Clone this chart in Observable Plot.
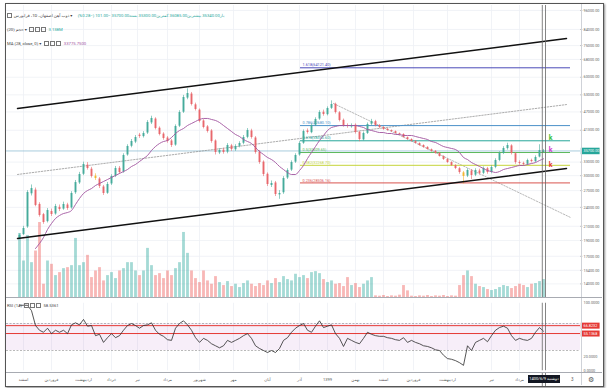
<!DOCTYPE html>
<html><head><meta charset="utf-8">
<script src="https://cdn.jsdelivr.net/npm/d3@7"></script>
<script src="https://cdn.jsdelivr.net/npm/@observablehq/plot@0.6"></script>
<style>
html,body{margin:0;padding:0;background:#fff;}
#root{position:relative;width:607px;height:388px;overflow:hidden;font-family:Roboto,"DejaVu Sans",sans-serif;}
#root svg{position:absolute;left:0;}
.ic{display:inline-block;width:3px;height:3px;border:0.5px solid #777;margin-right:0.8px;vertical-align:middle;}
</style></head>
<body><div id="root"></div>
<script>
// ---------- data ----------
const opens = [19300,19800,20900,26400,27100,24500,22800,21700,23300,22900,
 24000,23700,24400,23900,26600,28500,30300,32300,31400,29900,
 29300,27700,26500,28300,29900,31600,30800,34700,36900,38000,
 39900,39500,40500,43500,44700,41900,40200,39100,38300,37200,
 42500,46900,51800,53300,49400,47600,44100,42300,41100,38300,
 35200,35900,35400,37000,36000,36900,37700,39300,41100,39100,
 35400,33000,30300,28000,28500,26200,26600,29500,31200,33000,
 34700,37700,41100,40600,42800,44700,46900,46100,48200,49600,
 46700,44300,42600,42300,42800,40700,38600,40400,43100,43900,
 42700,42100,41600,41200,40900,40300,40100,39200,38700,38200,
 37600,37100,36600,36000,35600,35100,34300,33600,32900,32200,
 31500,30600,29900,31000,30100,31000,30500,31500,30700,31800,
 33400,35100,36300,37000,35000,32900,32700,32500,33400,33100,
 34200,35340];
const highs = [19900,21000,27000,28100,27500,24800,23000,23800,23700,24500,
 24400,24900,24700,26800,29000,30700,33000,32900,31800,30400,
 29600,28000,28600,30200,32000,32000,35000,37300,38700,39800,
 40400,40900,44200,45600,45100,42300,40600,39500,38700,42900,
 47400,52800,55300,53900,50000,48000,44500,42700,41500,38600,
 36300,36400,37600,37400,37300,38100,39800,41800,41600,39500,
 35800,33300,30600,28900,28800,27000,29800,31500,33300,35000,
 38100,41400,41700,43200,45100,47400,47600,48700,50800,50000,
 47100,44700,43200,43200,43200,41000,40800,43500,44600,44300,
 43000,42400,41800,41400,41100,40500,40300,39400,38900,38400,
 37800,37300,36800,36200,35800,35300,34500,33800,33100,32400,
 31800,30900,31500,31300,31500,31400,31900,31800,32200,33800,
 35500,36800,37700,37300,35300,33300,33000,33700,33700,34500,
 37300,36085];
const lows = [19100,19700,20700,26000,24100,22400,21300,21500,22500,22700,
 23300,23500,23500,23700,26300,28200,30000,31200,29500,29000,
 27400,26100,26300,28000,29600,30300,30500,34400,36500,37600,
 39000,39100,40100,43000,41400,39700,38500,37700,36600,36900,
 42100,46500,51200,49000,47300,43500,41700,40500,37700,34700,
 34800,34900,35000,35600,35600,36500,37300,38900,38800,34900,
 32500,29800,27800,27600,25900,25400,26300,29200,30900,32700,
 34400,37400,40200,40300,42400,44300,45600,45700,47800,46300,
 43800,42200,41900,41900,40200,38100,38300,40100,42700,42300,
 41800,41300,41000,40700,40200,39900,39100,38500,38000,37500,
 36900,36400,35900,35400,34900,34200,33400,32700,32000,31300,
 30300,28300,29600,29200,29800,30100,30200,30300,30400,31500,
 33100,34800,35900,34700,32500,32300,32100,32200,32800,32900,
 34000,35300];
const closes = [19690,20680,26640,27400,24320,22660,21570,23470,22820,24150,
 23640,24490,23810,26460,28580,30250,32460,31550,29830,29400,
 27790,26460,28190,29830,31550,30670,34580,36840,38160,39250,
 39530,40370,43620,44880,41820,40090,38980,38160,37100,42410,
 46800,52020,53510,49520,47800,43940,42110,40940,38160,35320,
 35820,35320,37100,36070,36840,37630,39250,41230,39250,35320,
 32910,30250,28190,28390,26270,26460,29400,31110,32910,34580,
 37630,40940,40650,42710,44560,46800,46150,48140,49520,46800,
 44250,42710,42410,42710,40650,38700,40370,43010,43940,42710,
 42110,41520,41230,40940,40370,40090,39250,38700,38160,37630,
 37100,36580,36070,35570,35070,34340,33610,32910,32230,31550,
 30670,29830,31110,30040,31110,30470,31550,30670,31780,33380,
 35070,36330,37100,35070,32910,32680,32460,33380,33150,34100,
 35801,35700];
const volumes = [19.3,11,18.7,10.5,14,22.6,4,11,10,6.6,
 7.5,8.7,9,9.6,17.8,9.6,10.5,12.7,6,8,
 9,5,6.6,7.5,5.7,8,8.7,10.5,10.5,8,
 6.6,8,14.8,9.6,6.6,7.2,5.7,8,6.6,8.7,
 10.5,19.6,13.3,8,5.7,4.5,8,5,4,6.3,
 4.5,3.6,4.8,3.3,4,3,4.2,5,4,3.3,
 4.2,3.6,5,4.2,5.7,4.5,6.3,5.4,5,7,
 6,6.6,5.7,7.5,7.8,7.2,5.4,4.5,5,4,
 4.2,3.3,6,3.6,4.2,3,4,5,6,0.5,
 0.4,0.6,0.3,0.5,0.4,0.7,3.6,2,0.4,0.3,
 0.5,0.4,0.6,0.3,0.5,0.4,0.6,0.3,0.5,0.4,
 3.6,6.6,8,6.3,4,3.3,3,2.4,2.1,2.4,
 3,3.6,3.3,2.7,3.3,4,3.6,3,4,4.2,
 4.8,5.4];
const rsiValues = [97,97,97,89,67,60,57,63,55,60,
 57,60,55,68,71,68,76,66,67,52,
 54,42,49,55,49,52,60,67,70,67,
 63,67,68,71,60,54,51,46,45,63,
 70,74,68,60,49,42,48,45,40,37,
 34,37,45,42,45,48,52,55,48,37,
 33,30,27,30,27,33,45,49,57,63,
 67,70,60,57,66,74,64,66,68,55,
 48,36,48,45,42,40,48,57,54,52,
 51,51,49,48,46,45,49,42,45,42,
 40,37,36,34,31,30,23,18,17,15,
 12,8,37,30,42,45,48,43,52,60,
 64,66,63,52,45,48,46,45,48,57,
 64,58.5361];
const maValues = [null,null,null,null,17960,18610,19410,20530,21420,22190,
 22660,22980,23140,23470,24490,25550,26460,27020,27400,27990,
 28390,28790,29200,29620,30040,30470,30890,31330,32000,32460,
 33150,33850,34580,35820,36840,37630,38160,38430,39250,40370,
 41230,41820,42710,43320,43940,44560,44880,44880,44560,44250,
 43620,42710,41820,40940,40090,39530,38700,38160,37630,36580,
 35570,34830,34100,33610,32910,32000,31330,30670,30250,30250,
 31110,32230,33850,35320,36840,38430,39810,41230,42110,42410,
 42710,42710,42710,42710,42710,42410,42110,41520,41230,40940,
 40650,40650,40370,40370,40090,40090,39810,39810,39810,39530,
 39250,38980,38700,38160,37900,37360,36840,36580,36330,36070,
 35320,34100,33610,32910,32460,32000,31550,31110,30890,30670,
 30890,31330,31550,31780,32000,32230,32230,32460,32680,32910,
 33380,33775.75];
const highlighted = [19, 111];

const priceTicks = [96000,84000,75000,68000,60000,53000,47000,41300,33000,30000,27000,24000,21000,19000,17000,15400,14000];
const monthTicks = [1,8,16,23,29.5,37,45,53.5,62,70,77,84,91,98.5,107,118,125];
const monthLabels = ["اسفند","فروردین","اردیبهشت","خرداد","تیر","مرداد","شهریور","مهر","آبان","آذر","1399","بهمن","اسفند","فروردین","اردیبهشت","تیر","مرداد"];

// drawings
const channelX = [-0.5, 136.75];
const channelUpper = [48140, 78820];
const channelLower = [19270, 31550];
const channelMid = [30250, 49500];
const trendX = [78.5, 137.75];
const trendP = [49870, 22350];
const fibLow = 22424.25, fibHigh = 48195.05;
const fibLevels = [0.236, 0.382, 0.5, 0.618, 0.786, 1.618];
const fibColors = ["#d9534f", "#c5d43a", "#5cb85c", "#26a69a", "#4a90c8", "#4b4bb8"];
const fibX = [70.25, 137.75];
const kMarks = [{i: 132.8, p: 39260, c: "#3cc03c"}, {i: 132.8, p: 35940, c: "#d13fd1"}, {i: 132.8, p: 32460, c: "#e53935"}];
const cursorX = [130.7, 131.5];
const rsiBand = [30, 70];
const rsiLines = [66.8232, 55.1368];
const rsiTicks = [100, 20, 0];

// ---------- build ----------
const lastClose = closes[closes.length - 1];
const bars = closes.map((c, i) => ({
  i, o: opens[i], h: highs[i], l: lows[i], c, v: volumes[i], rsi: rsiValues[i], ma: maValues[i],
  up: c >= opens[i],
  col: highlighted.includes(i) ? "#f2b632" : (c >= opens[i] ? "#45ab9b" : "#e8676c")
}));
const fibRows = fibLevels.map((lv, k) => {
  const p = fibLow + lv * (fibHigh - fibLow);
  return {lv, p, color: fibColors[k], label: `${lv}(${p.toFixed(2)})`};
});
const seg = (xs, ys) => xs.map((x, k) => ({x, y: ys[k]}));

const root = document.getElementById("root");
const xDomain = [-3.25, 140.25];
const svgStyle = "background:transparent;overflow:visible;font-family:Roboto,'DejaVu Sans',sans-serif;";
const base = {width: 607, marginLeft: 6, marginRight: 27, x: {domain: xDomain, axis: null}, color: {type: "identity"}, style: svgStyle};
const priceY = {type: "log", domain: [12720, 99440], axis: null};
function place(svg, top) { svg.style.top = top + "px"; root.appendChild(svg); }
function div(css, html) { const d = document.createElement("div"); d.style.cssText = css; if (html) d.innerHTML = html; root.appendChild(d); return d; }

// frame
div("position:absolute;left:5px;top:3px;width:597px;height:382px;border:1px solid #555;box-shadow:1px 1px 2px rgba(0,0,0,0.45);");

// layer 1: price grid
place(Plot.plot({...base, height: 297, marginTop: 5, marginBottom: 0, y: priceY,
  marks: [
    Plot.ruleY(priceTicks, {stroke: "#eef0f5", strokeWidth: 0.8}),
    Plot.ruleX(monthTicks, {stroke: "#eef0f5", strokeWidth: 0.8})
  ]}), 0);

// layer 2: volume
place(Plot.plot({...base, height: 297, marginTop: 0, marginBottom: 0, y: {domain: [0, 89.5], axis: null},
  marks: [
    Plot.ruleX(bars, {x: "i", y1: 0, y2: "v", stroke: d => d.up ? "#26a69a" : "#ef5350", strokeOpacity: 0.42, strokeWidth: 2.8})
  ]}), 0);

// layer 3: price
place(Plot.plot({...base, height: 297, marginTop: 5, marginBottom: 0, y: priceY,
  marks: [
    Plot.ruleY([lastClose], {stroke: "#93bfd6", strokeWidth: 0.8}),
    Plot.line(seg(channelX, channelMid), {x: "x", y: "y", stroke: "#888", strokeWidth: 0.7, strokeDasharray: "1.5,1.5"}),
    Plot.line(seg(trendX, trendP), {x: "x", y: "y", stroke: "#999", strokeWidth: 0.7, strokeDasharray: "1.5,1.5"}),
    Plot.ruleY(fibRows, {y: "p", x1: fibX[0], x2: fibX[1], stroke: "color", strokeWidth: 1}),
    Plot.text(fibRows, {x: fibX[0] + 0.5, y: "p", text: "label", fill: "color", textAnchor: "start", dy: -2.6, fontSize: 3.8}),
    Plot.ruleX(bars, {x: "i", y1: "l", y2: "h", stroke: "col", strokeWidth: 0.6}),
    Plot.ruleX(bars, {x: "i", y1: "o", y2: "c", stroke: "col", strokeWidth: 1.9}),
    Plot.line(bars.filter(d => d.ma != null), {x: "i", y: "ma", stroke: "#a0529e", strokeWidth: 0.9, curve: "monotone-x"}),
    Plot.line(seg(channelX, channelUpper), {x: "x", y: "y", stroke: "#111", strokeWidth: 1.5}),
    Plot.line(seg(channelX, channelLower), {x: "x", y: "y", stroke: "#111", strokeWidth: 1.5}),
    Plot.text(kMarks, {x: "i", y: "p", text: () => "k", fill: "c", fontSize: 7, fontWeight: "bold"}),
    Plot.ruleX(cursorX, {stroke: "#666", strokeWidth: 0.8}),
    Plot.ruleY(priceTicks, {x1: xDomain[1], x2: xDomain[1] + 0.6, stroke: "#999", strokeWidth: 0.6}),
    Plot.text(priceTicks, {y: d => d, frameAnchor: "right", dx: 3, textAnchor: "start", text: d => d.toFixed(2), fontSize: 3.8, fill: "#666"}),
    Plot.ruleY([lastClose], {x1: xDomain[1] + 0.2, x2: xDomain[1] + 4.9, stroke: "#26a69a", strokeWidth: 6.5}),
    Plot.text([lastClose], {y: d => d, frameAnchor: "right", dx: 3, textAnchor: "start", text: d => d.toFixed(2), fontSize: 3.8, fill: "white"})
  ]}), 0);

// layer 4: RSI
place(Plot.plot({...base, height: 75, marginTop: 5.75, marginBottom: 1.75, y: {domain: [0, 100], axis: null},
  marks: [
    Plot.ruleX(monthTicks, {stroke: "#eef0f5", strokeWidth: 0.8}),
    Plot.rect([rsiBand], {x1: xDomain[0], x2: xDomain[1], y1: d => d[0], y2: d => d[1], fill: "#9c27b0", fillOpacity: 0.08}),
    Plot.ruleY(rsiBand, {stroke: "#8a8a8a", strokeWidth: 0.6, strokeDasharray: "2,1.5"}),
    Plot.ruleY(rsiLines, {stroke: "#e53935", strokeWidth: 1}),
    Plot.line(bars, {x: "i", y: "rsi", stroke: "#2b2b2b", strokeWidth: 0.8}),
    Plot.ruleX(cursorX, {stroke: "#666", strokeWidth: 0.8}),
    Plot.text(rsiTicks, {y: d => d, frameAnchor: "right", dx: 3, textAnchor: "start", text: d => d.toFixed(4), fontSize: 3.8, fill: "#666"}),
    Plot.ruleY(rsiLines, {x1: xDomain[1] + 0.2, x2: xDomain[1] + 4.9, stroke: "#e53935", strokeWidth: 6}),
    Plot.text(rsiLines, {y: d => d, frameAnchor: "right", dx: 3, textAnchor: "start", text: d => d.toFixed(4), fontSize: 3.8, fill: "white"})
  ]}), 297);

// layer 5: time axis
place(Plot.plot({...base, height: 14, marginTop: 1, marginBottom: 0,
  marks: [
    Plot.ruleX(cursorX, {stroke: "#666", strokeWidth: 0.8}),
    Plot.text(monthTicks.map((t, k) => ({t, label: monthLabels[k]})), {x: "t", text: "label", frameAnchor: "middle", fontSize: 4, fill: "#555"})
  ]}), 372);

// separators
div("position:absolute;left:581px;top:4px;width:1px;height:381px;background:#cfd2d8;");
div("position:absolute;left:6px;top:296.5px;width:596px;height:1px;background:#a8abb2;");
div("position:absolute;left:6px;top:371.5px;width:596px;height:1px;background:#a8abb2;");

// headers
div("position:absolute;left:7px;top:12.5px;font-size:4.2px;line-height:5px;color:#444;white-space:nowrap;",
  '<span class="ic"></span> <span dir="rtl">ذوب آهن اصفهان، 1D، فرابورس</span> ▾ &nbsp;&nbsp;&nbsp;&nbsp;<span dir="rtl" style="color:#26a69a">باز35340.00 بیشترین36085.00 کمترین35300.00 بسته35700.00 −101.00 (−0.28%)</span>');
div("position:absolute;left:7px;top:26.5px;font-size:4.2px;line-height:5px;color:#444;white-space:nowrap;",
  '<span dir="rtl">حجم (20)</span> ▾ &nbsp;<span class="ic"></span><span class="ic"></span><span class="ic"></span> &nbsp;<span style="color:#26a69a">3.138M</span>');
div("position:absolute;left:7px;top:40.5px;font-size:4.2px;line-height:5px;color:#444;white-space:nowrap;",
  'MA (28, close, 0) ▾ &nbsp;&nbsp;<span class="ic"></span><span class="ic"></span><span class="ic"></span> &nbsp;<span style="color:#a0529e">33775.7500</span>');
div("position:absolute;left:7px;top:302.5px;font-size:4.2px;line-height:5px;color:#444;white-space:nowrap;",
  'RSI (14) &nbsp;<span class="ic"></span><span class="ic"></span><span class="ic"></span> &nbsp;58.5361');

// date box & misc
div("position:absolute;left:528px;top:375px;width:32px;height:8px;background:#131722;color:#fff;font-size:4px;line-height:8px;text-align:center;white-space:nowrap;",
  '<span dir="rtl">دوشنبه 1400/6/9</span>');
div("position:absolute;left:571px;top:377px;font-size:4.5px;color:#555;", "3");
div("position:absolute;left:588px;top:375.5px;font-size:7px;color:#555;", "⚙");
</script>
</body></html>
